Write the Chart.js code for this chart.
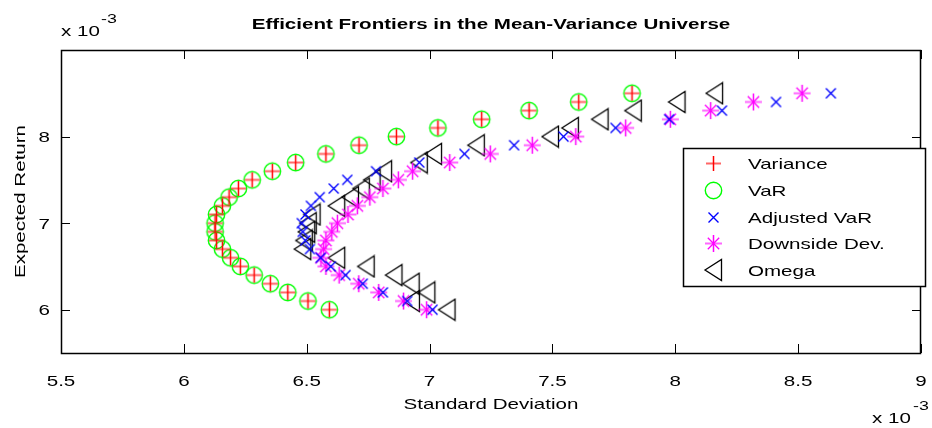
<!DOCTYPE html>
<html><head><meta charset="utf-8">
<script src="https://cdn.jsdelivr.net/npm/chart.js@4/dist/chart.umd.min.js"></script>
<style>html,body{margin:0;padding:0;background:#fff;overflow:hidden}#wrap{position:relative;width:932px;height:428px;background:#fff}</style>
</head><body><div id="wrap"><canvas id="c" width="932" height="428"></canvas></div>
<script>
// All values are in units of 1e-3 (axes carry the "x 10^-3" multiplier)
const expectedReturn = [6.0,6.1,6.2,6.3,6.4,6.5,6.6,6.7,6.8,6.9,7.0,7.1,7.2,7.3,7.4,7.5,7.6,7.7,7.8,7.9,8.0,8.1,8.2,8.3,8.4,8.5];
const stdVariance = [6.592,6.505,6.423,6.352,6.286,6.230,6.190,6.157,6.133,6.127,6.127,6.133,6.157,6.184,6.222,6.278,6.360,6.455,6.578,6.713,6.865,7.034,7.212,7.405,7.607,7.824];
const stdVaR      = [6.592,6.505,6.423,6.352,6.286,6.230,6.190,6.157,6.133,6.127,6.127,6.133,6.157,6.184,6.222,6.278,6.360,6.455,6.578,6.713,6.865,7.034,7.212,7.405,7.607,7.824];
const stdAdjVaR   = [7.012,6.909,6.810,6.728,6.658,6.598,6.557,6.513,6.494,6.484,6.480,6.495,6.517,6.553,6.610,6.665,6.782,6.958,7.142,7.344,7.545,7.757,7.975,8.190,8.410,8.633];
const stdDownside = [6.988,6.894,6.793,6.712,6.632,6.578,6.558,6.569,6.578,6.602,6.625,6.668,6.706,6.757,6.810,6.873,6.931,7.082,7.247,7.418,7.595,7.798,7.980,8.144,8.318,8.516];
const stdOmega    = [7.071,6.926,6.989,6.925,6.855,6.742,6.622,6.484,6.490,6.500,6.506,6.522,6.622,6.678,6.722,6.766,6.813,6.958,7.016,7.190,7.492,7.573,7.694,7.829,8.007,8.160];
const seriesNames = ['Variance','VaR','Adjusted VaR','Downside Dev.','Omega'];
const xTickValues = [5.5,6,6.5,7,7.5,8,8.5,9];
const xTickLabels = ['5.5','6','6.5','7','7.5','8','8.5','9'];
const yTickValues = [6,7,8];
const yTickLabels = ['6','7','8'];
const titleText = 'Efficient Frontiers in the Mean-Variance Universe';
const xAxisLabel = 'Standard Deviation';
const yAxisLabel = 'Expected Return';
const multiplierBase = 'x 10';
const multiplierExp = '-3';

const FONT = '"Liberation Sans", Arial, Helvetica, sans-serif';
const SX = 1.37;

function mk(w, h, fn) {
  const c = document.createElement('canvas'); c.width = w; c.height = h;
  const g = c.getContext('2d'); fn(g); return c;
}
const mPlus = mk(19, 19, g => {
  g.fillStyle = 'rgba(255,0,0,0.6)'; g.fillRect(2, 8.5, 15, 2);
  g.fillStyle = '#ff0000'; g.fillRect(8.75, 2, 1.5, 15);
});
const mCircle = mk(21, 21, g => {
  g.strokeStyle = '#00ff00'; g.lineWidth = 1.4; g.beginPath(); g.arc(10.5, 10.5, 8.2, 0, Math.PI * 2); g.stroke();
});
const mX = mk(13, 13, g => {
  g.strokeStyle = '#0000ff'; g.lineWidth = 1.4; g.beginPath();
  g.moveTo(1.5, 1.5); g.lineTo(11.5, 11.5); g.moveTo(11.5, 1.5); g.lineTo(1.5, 11.5); g.stroke();
});
const mStar = mk(19, 19, g => {
  g.strokeStyle = '#ff00ff'; g.lineWidth = 1.3; g.beginPath();
  g.moveTo(3.8, 3.8); g.lineTo(15.2, 15.2); g.moveTo(15.2, 3.8); g.lineTo(3.8, 15.2); g.stroke();
  g.fillStyle = 'rgba(255,0,255,0.6)'; g.fillRect(1, 8.5, 17, 2);
  g.fillStyle = '#ff00ff'; g.fillRect(8.75, 1, 1.5, 17);
});
const mTri = mk(21, 24, g => {
  g.strokeStyle = '#000000'; g.lineWidth = 1.3; g.beginPath();
  g.moveTo(2, 12); g.lineTo(18.5, 1.5); g.lineTo(18.5, 22.5); g.closePath(); g.stroke();
});
const markers = [mPlus, mCircle, mX, mStar, mTri];
const seriesX = [stdVariance, stdVaR, stdAdjVaR, stdDownside, stdOmega];

function txt(ctx, s, x, y, font, align, baseline, rot) {
  ctx.save(); ctx.font = font; ctx.textAlign = align; ctx.textBaseline = baseline; ctx.fillStyle = '#000';
  ctx.translate(x, y); if (rot) ctx.rotate(rot); ctx.scale(SX, 1); ctx.fillText(s, 0, 0); ctx.restore();
}

const frame = {
  id: 'frame',
  beforeDatasetsDraw(chart) {
    const { ctx, chartArea: a, scales: { x, y } } = chart;
    ctx.save(); ctx.strokeStyle = '#000'; ctx.lineWidth = 1;
    ctx.beginPath();
    x.ticks.forEach(t => {
      const px = Math.round(x.getPixelForValue(t.value)) + 0.5;
      ctx.moveTo(px, a.bottom); ctx.lineTo(px, a.bottom - 9);
      ctx.moveTo(px, a.top); ctx.lineTo(px, a.top + 9);
    });
    y.ticks.forEach(t => {
      const py = Math.round(y.getPixelForValue(t.value)) + 0.5;
      ctx.moveTo(a.left, py); ctx.lineTo(a.left + 9, py);
      ctx.moveTo(a.right, py); ctx.lineTo(a.right - 9, py);
    });
    ctx.stroke();
    ctx.lineWidth = 1.5;
    ctx.strokeRect(a.left + 0.5, a.top + 0.5, a.right - a.left - 1, a.bottom - a.top);
    ctx.restore();
  },
  afterDraw(chart) {
    const { ctx, chartArea: a, scales: { x, y } } = chart;
    const f15 = '15px ' + FONT;
    x.ticks.forEach(t => txt(ctx, xTickLabels[xTickValues.indexOf(t.value)], x.getPixelForValue(t.value), 386, f15, 'center', 'alphabetic'));
    y.ticks.forEach(t => txt(ctx, yTickLabels[yTickValues.indexOf(t.value)], 50, y.getPixelForValue(t.value) + 5.5, f15, 'right', 'alphabetic'));
    txt(ctx, titleText, (a.left + a.right) / 2, 29, 'bold 15px ' + FONT, 'center', 'alphabetic');
    txt(ctx, xAxisLabel, (a.left + a.right) / 2, 409, f15, 'center', 'alphabetic');
    txt(ctx, yAxisLabel, 25, (a.top + a.bottom) / 2, f15, 'center', 'alphabetic', -Math.PI / 2);
    txt(ctx, multiplierBase, 61, 36, f15, 'left', 'alphabetic');
    txt(ctx, multiplierExp, 101, 23, '13px ' + FONT, 'left', 'alphabetic');
    txt(ctx, multiplierBase, 872, 423, f15, 'left', 'alphabetic');
    txt(ctx, multiplierExp, 913, 410, '13px ' + FONT, 'left', 'alphabetic');
    // legend
    const L = 683, T = 148, W = 242, H = 138;
    ctx.save(); ctx.fillStyle = '#fff'; ctx.fillRect(L, T, W, H);
    ctx.strokeStyle = '#000'; ctx.lineWidth = 1.5; ctx.strokeRect(L + 0.5, T + 0.5, W, H); ctx.restore();
    const rows = [163, 190, 217, 243, 270];
    seriesNames.forEach((n, i) => {
      const m = markers[i];
      ctx.drawImage(m, Math.round(713 - m.width / 2), Math.round(rows[i] - m.height / 2));
      txt(ctx, n, 748, rows[i] + 5.5, f15, 'left', 'alphabetic');
    });
  }
};

new Chart(document.getElementById('c'), {
  type: 'scatter',
  data: {
    datasets: seriesNames.map((n, i) => ({
      label: n,
      data: expectedReturn.map((r, k) => ({ x: seriesX[i][k], y: r })),
      pointStyle: markers[i], pointRadius: 10, pointHoverRadius: 10,
      showLine: false, borderColor: 'transparent', backgroundColor: 'transparent'
    }))
  },
  options: {
    responsive: false, animation: false, devicePixelRatio: 1,
    layout: { padding: { top: 50, right: 3, left: 0, bottom: 0 } },
    plugins: { legend: { display: false }, tooltip: { enabled: false }, title: { display: false } },
    scales: {
      x: {
        type: 'linear', min: 5.5, max: 9,
        afterBuildTicks: s => { s.ticks = xTickValues.map(v => ({ value: v })); },
        afterFit: s => { s.height = 75; },
        grid: { display: false }, border: { display: false }, ticks: { display: false }
      },
      y: {
        type: 'linear', min: 5.5, max: 9,
        afterBuildTicks: s => { s.ticks = yTickValues.map(v => ({ value: v })); },
        afterFit: s => { s.width = 61; },
        grid: { display: false }, border: { display: false }, ticks: { display: false }
      }
    }
  },
  plugins: [frame]
});
</script></body></html>
